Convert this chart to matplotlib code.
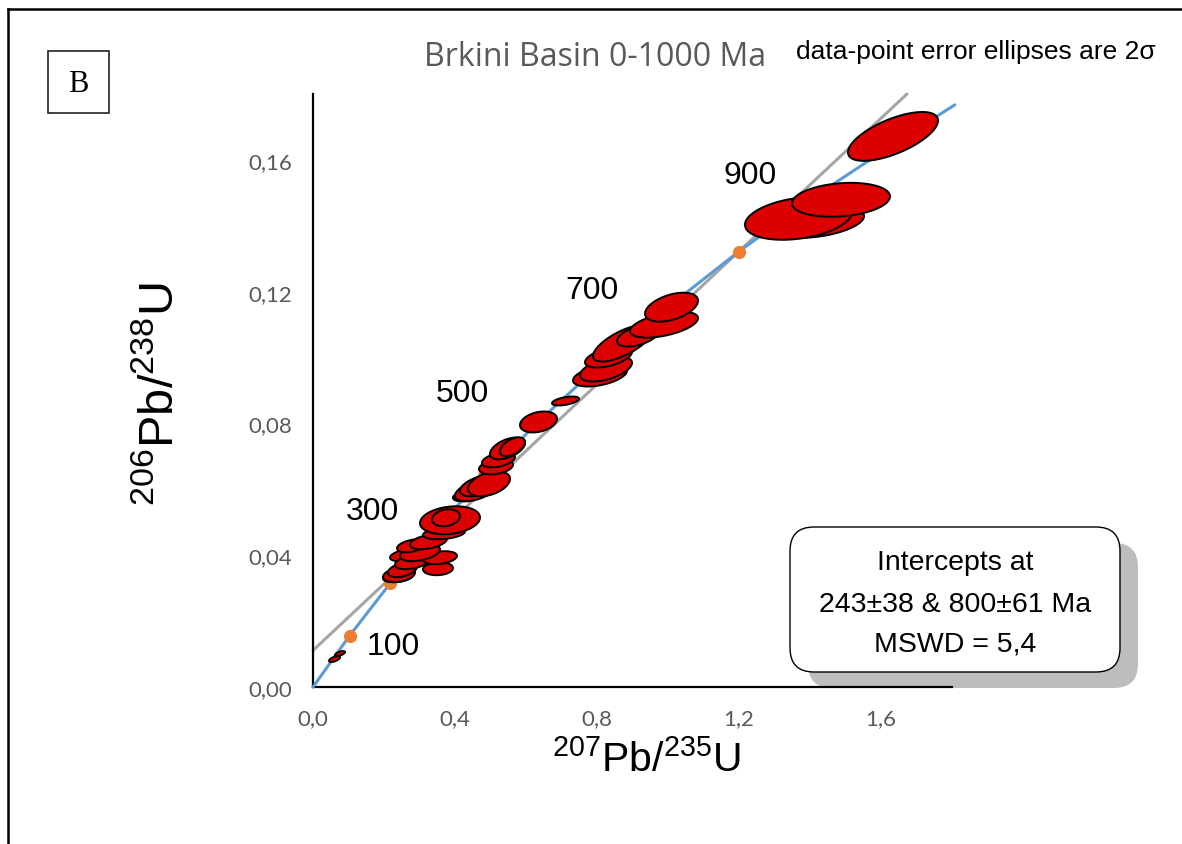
import numpy as np
import matplotlib.pyplot as plt
from matplotlib.patches import FancyBboxPatch, Rectangle
from matplotlib.lines import Line2D

plt.rcParams['mathtext.fontset'] = 'custom'
plt.rcParams['mathtext.rm'] = 'Liberation Sans'

# concordia points every 100 Ma (207Pb/235U, 206Pb/238U)
conc_age = [0, 100, 200, 300, 400, 500, 600, 700, 800, 900, 1000, 1050]
conc_x = [0.0, 0.1035, 0.2177, 0.3438, 0.4828, 0.6362, 0.8056, 0.9925, 1.1987, 1.4264, 1.6774, 1.808]
conc_y = [0.0, 0.01563, 0.03151, 0.04764, 0.06402, 0.08065, 0.09754, 0.1147, 0.13213, 0.14982, 0.1678, 0.1767]

# discordia line (243 Ma and 800 Ma intercepts, extended)
disc_x = [0.0, 1.673]
disc_y = [0.0111, 0.180]

# data-point ellipses: centre, 2-sigma half widths, error correlation
ell_x = [0.0606, 0.0761,
         0.2394, 0.2423, 0.2521, 0.3521, 0.2592, 0.2803, 0.3577, 0.3014, 0.2789, 0.3254, 0.3690, 0.3859, 0.3746,
         0.4366, 0.4592, 0.4746, 0.4958, 0.5155, 0.5225, 0.5479, 0.5620, 0.6352,
         0.7113, 0.8085, 0.8254, 0.8324, 0.8732, 0.9169, 0.9887, 1.0099,
         1.4268, 1.3676, 1.4873, 1.6338]
ell_y = [0.00848, 0.01015,
         0.03348, 0.03409, 0.03561, 0.03591, 0.04000, 0.03803, 0.03924, 0.04076, 0.04288, 0.04409, 0.04667, 0.05061, 0.05136,
         0.05818, 0.05970, 0.06121, 0.06167, 0.06682, 0.06894, 0.07242, 0.07288, 0.08045,
         0.08682, 0.09455, 0.09652, 0.10015, 0.10439, 0.10667, 0.11000, 0.11530,
         0.14106, 0.14227, 0.14788, 0.16712]
ell_sx = [0.0155, 0.0141,
          0.0423, 0.0451, 0.0408, 0.0423, 0.0423, 0.0493, 0.0479, 0.0563, 0.0423, 0.0521, 0.0592, 0.0845, 0.0394,
          0.0423, 0.0592, 0.0606, 0.0592, 0.0479, 0.0465, 0.0493, 0.0352, 0.0521,
          0.0380, 0.0761, 0.0732, 0.0662, 0.0845, 0.0606, 0.0958, 0.0746,
          0.1254, 0.1507, 0.1380, 0.1268]
ell_sy = [0.00090, 0.00076,
          0.00167, 0.00227, 0.00227, 0.00197, 0.00182, 0.00227, 0.00197, 0.00258, 0.00197, 0.00227, 0.00182, 0.00424, 0.00258,
          0.00182, 0.00333, 0.00333, 0.00379, 0.00227, 0.00227, 0.00333, 0.00288, 0.00318,
          0.00136, 0.00333, 0.00379, 0.00318, 0.00561, 0.00333, 0.00394, 0.00439,
          0.00470, 0.00652, 0.00515, 0.00742]
ell_rho = [0.6, 0.6,
           0.3, 0.3, 0.4, 0.1, 0.4, 0.4, 0.3, 0.4, 0.4, 0.4, 0.3, 0.2, 0.2,
           0.4, 0.5, 0.5, 0.4, 0.3, 0.4, 0.5, 0.5, 0.3,
           0.5, 0.45, 0.5, 0.5, 0.7, 0.5, 0.5, 0.45,
           0.4, 0.3, 0.2, 0.65]

label_ages = ['100', '300', '500', '700', '900']
label_x = [0.2254, 0.1662, 0.4197, 0.786, 1.231]
label_y = [0.0124, 0.0533, 0.0891, 0.1206, 0.1555]

xticks = [0.0, 0.4, 0.8, 1.2, 1.6]
xticklabels = ['0,0', '0,4', '0,8', '1,2', '1,6']
yticks = [0.0, 0.04, 0.08, 0.12, 0.16]
yticklabels = ['0,00', '0,04', '0,08', '0,12', '0,16']

W, H = 1182, 845
fig = plt.figure(figsize=(W / 100, H / 100), dpi=100)

# overlay in pixel coordinates (behind the plot)
ov = fig.add_axes([0, 0, 1, 1], zorder=0)
ov.set_xlim(0, W)
ov.set_ylim(H, 0)
ov.axis('off')

ov.add_line(Line2D([8, 8], [10, H], color='black', lw=1.8))
ov.add_line(Line2D([8, W], [10, 10], color='black', lw=1.8))
ov.add_patch(Rectangle((48, 52), 61, 62, fill=False, ec='#222222', lw=1.2))
ov.text(78.5, 84, 'B', family='Liberation Serif', fontsize=22, ha='center', va='center')

ov.add_patch(FancyBboxPatch((808, 544), 330, 145, boxstyle='round,pad=0,rounding_size=24',
                            fc='#bdbdbd', ec='none'))
ov.add_patch(FancyBboxPatch((790, 528), 330, 145, boxstyle='round,pad=0,rounding_size=24',
                            fc='white', ec='black', lw=1.0))
box_lines = ['Intercepts at', '243\u00b138 & 800\u00b161 Ma', 'MSWD = 5,4']
for yy, s in zip([563, 605, 645], box_lines):
    ov.text(955, yy, s, family='Liberation Sans', fontsize=20.5, ha='center', va='center')

ov.text(595, 57, 'Brkini Basin 0-1000 Ma', family='Open Sans', fontsize=23, color='#595959',
        ha='center', va='center')
ov.text(976, 52, 'data-point error ellipses are 2\u03c3', family='Liberation Sans', fontsize=19,
        ha='center', va='center')

# main plot
ax = fig.add_axes([313 / W, 1 - 688 / H, (952 - 313) / W, (688 - 95) / H], zorder=1)
ax.patch.set_alpha(0)
ax.set_xlim(0, 1.8)
ax.set_ylim(0, 0.18)
for s in ['top', 'right']:
    ax.spines[s].set_visible(False)
for s in ['left', 'bottom']:
    ax.spines[s].set_linewidth(1.6)
ax.set_xticks(xticks)
ax.set_xticklabels(xticklabels)
ax.set_yticks(yticks)
ax.set_yticklabels(yticklabels)
ax.tick_params(length=0, labelsize=16, labelcolor='#595959', pad=15)
for lab in ax.get_xticklabels() + ax.get_yticklabels():
    lab.set_family('Lato')

ax.plot(disc_x, disc_y, color='#a5a5a5', lw=2.2, solid_capstyle='round', clip_on=False, zorder=2)
ax.plot(conc_x, conc_y, color='#5b9bd5', lw=2.2, solid_capstyle='round', clip_on=False, zorder=3)
ax.plot(conc_x[1:11], conc_y[1:11], 'o', color='#ed7d31', ms=9.5, mec='none', zorder=4)

t = np.linspace(0, 2 * np.pi, 120)
for cx, cy, sx, sy, r in zip(ell_x, ell_y, ell_sx, ell_sy, ell_rho):
    ex = cx + sx * np.cos(t)
    ey = cy + sy * (r * np.cos(t) + np.sqrt(1 - r * r) * np.sin(t))
    ax.fill(ex, ey, fc='#dd0000', ec='black', lw=1.4, zorder=5, clip_on=False)

for s, lx, ly in zip(label_ages, label_x, label_y):
    ax.text(lx, ly, s, family='Liberation Sans', fontsize=23, ha='center', va='center', zorder=6)

fig.text(646 / W, 1 - 760 / H, r'$\mathregular{^{207}}$Pb/$\mathregular{^{235}}$U',
         family='Liberation Sans', fontsize=29.5, ha='center', va='center')
fig.text(160 / W, 1 - 394 / H, r'$\mathregular{^{206}}$Pb/$\mathregular{^{238}}$U',
         family='Liberation Sans', fontsize=35, ha='center', va='center', rotation=90)

fig.savefig('out.png', dpi=100)
